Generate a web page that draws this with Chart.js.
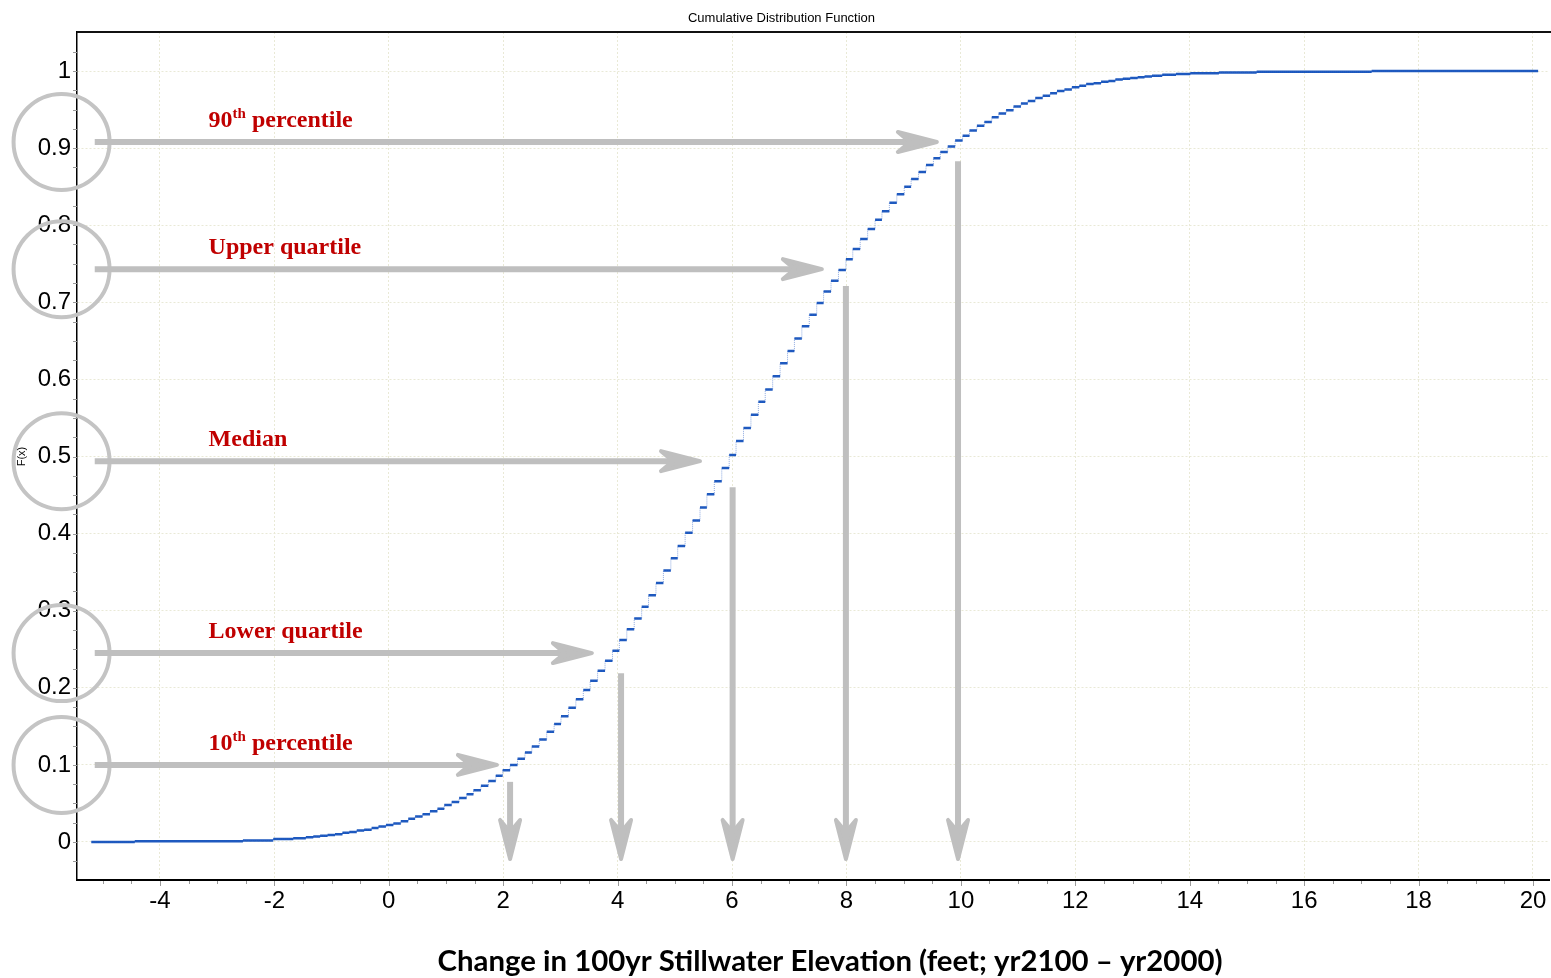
<!DOCTYPE html>
<html>
<head>
<meta charset="utf-8">
<script src="https://cdn.jsdelivr.net/npm/chart.js@4"></script>
<style>
  body { margin: 0; background: #fff; }
  canvas { display: block; }
</style>
</head>
<body>
<canvas id="cdfChart" width="1551" height="978"></canvas>
<script>
// step positions (feet) and cumulative probability
const xs = [-5.20, -4.44, -2.55, -2.02, -1.67,
  -1.45, -1.32, -1.20, -1.07, -0.94, -0.81, -0.69, -0.56, -0.43, -0.30,
  -0.18, -0.05, 0.08, 0.21, 0.34, 0.46, 0.59, 0.72, 0.85, 0.97,
  1.10, 1.23, 1.36, 1.48, 1.61, 1.74, 1.87, 1.99, 2.12, 2.25,
  2.38, 2.50, 2.63, 2.76, 2.89, 3.01, 3.14, 3.27, 3.40, 3.52,
  3.65, 3.78, 3.91, 4.03, 4.16, 4.29, 4.42, 4.54, 4.67, 4.80,
  4.93, 5.05, 5.18, 5.31, 5.44, 5.56, 5.69, 5.82, 5.95, 6.07,
  6.20, 6.33, 6.46, 6.58, 6.71, 6.84, 6.97, 7.09, 7.22, 7.35,
  7.48, 7.60, 7.73, 7.86, 7.99, 8.11, 8.24, 8.37, 8.50, 8.62,
  8.75, 8.88, 9.01, 9.13, 9.26, 9.39, 9.52, 9.64, 9.77, 9.90,
  10.03, 10.15, 10.28, 10.41, 10.54, 10.66, 10.79, 10.92, 11.05, 11.17,
  11.30, 11.43, 11.56, 11.68, 11.81, 11.94, 12.07, 12.19, 12.32, 12.45,
  12.58, 12.70, 12.83, 12.96, 13.09, 13.21, 13.34,
  13.52, 13.76, 14.01, 14.51, 15.17, 17.18, 20.09];
const fs = [0.000, 0.001, 0.002, 0.004, 0.005,
  0.006, 0.007, 0.008, 0.009, 0.010, 0.012, 0.013, 0.015, 0.016, 0.018,
  0.020, 0.022, 0.024, 0.027, 0.030, 0.033, 0.036, 0.040, 0.043, 0.048,
  0.052, 0.057, 0.062, 0.067, 0.073, 0.079, 0.086, 0.093, 0.100, 0.108,
  0.116, 0.124, 0.133, 0.143, 0.153, 0.163, 0.174, 0.185, 0.197, 0.209,
  0.222, 0.235, 0.248, 0.262, 0.276, 0.290, 0.305, 0.320, 0.336, 0.352,
  0.368, 0.384, 0.401, 0.417, 0.434, 0.451, 0.468, 0.485, 0.502, 0.520,
  0.537, 0.554, 0.571, 0.587, 0.604, 0.621, 0.637, 0.653, 0.669, 0.684,
  0.699, 0.714, 0.728, 0.742, 0.756, 0.769, 0.782, 0.795, 0.807, 0.818,
  0.829, 0.840, 0.850, 0.860, 0.869, 0.878, 0.887, 0.895, 0.902, 0.910,
  0.916, 0.923, 0.929, 0.934, 0.940, 0.945, 0.949, 0.954, 0.958, 0.961,
  0.965, 0.968, 0.971, 0.974, 0.976, 0.979, 0.981, 0.983, 0.984, 0.986,
  0.987, 0.989, 0.990, 0.991, 0.992, 0.993, 0.994,
  0.995, 0.996, 0.997, 0.998, 0.999, 1.000, 1.000];

const xTicks = [-4, -2, 0, 2, 4, 6, 8, 10, 12, 14, 16, 18, 20];
const yTicks = [0, 0.1, 0.2, 0.3, 0.4, 0.5, 0.6, 0.7, 0.8, 0.9, 1];

// percentile annotations
const pctLabels = ['10th percentile', 'Lower quartile', 'Median', 'Upper quartile', '90th percentile'];
const pctLevel = [0.1, 0.245, 0.494, 0.743, 0.908];   // horizontal arrow height
const pctArrowEnd = [1.89, 3.55, 5.44, 7.57, 9.58];   // where the horizontal arrow stops
const pctValue = [2.12, 4.06, 6.01, 7.99, 9.95];      // vertical arrow position
const pctDropTop = [0.078, 0.219, 0.46, 0.721, 0.883];
const dropBottom = -0.022;
const arrowStart = -5.14;
const labelX = -3.15;
const circleX = -5.72;

const steps = xs.map((v, i) => ({ x: v, y: fs[i] }));
// flat parts of the steps drawn bold, separated by gaps
const treads = [];
for (let i = 0; i < xs.length - 1; i++) {
  treads.push({ x: xs[i], y: fs[i] }, { x: xs[i + 1], y: fs[i] }, { x: xs[i + 1], y: null });
}

const sans = '"Liberation Sans", Arial, sans-serif';
const grey = '#bfbfbf';

function drawArrow(ctx, x1, y1, x2, y2) {
  const ang = Math.atan2(y2 - y1, x2 - x1);
  const head = 39, half = 10, notch = 27;
  ctx.save();
  ctx.strokeStyle = grey;
  ctx.fillStyle = grey;
  ctx.lineWidth = 6;
  ctx.beginPath();
  ctx.moveTo(x1, y1);
  ctx.lineTo(x2 - notch * Math.cos(ang), y2 - notch * Math.sin(ang));
  ctx.stroke();
  ctx.translate(x2, y2);
  ctx.rotate(ang);
  ctx.beginPath();
  ctx.moveTo(0, 0);
  ctx.lineTo(-head, -half);
  ctx.lineTo(-notch, 0);
  ctx.lineTo(-head, half);
  ctx.closePath();
  ctx.fill();
  ctx.lineWidth = 4;
  ctx.lineJoin = 'round';
  ctx.stroke();
  ctx.restore();
}

const decorations = {
  id: 'decorations',
  afterDraw(chart) {
    const { ctx, chartArea: a, scales: { x, y } } = chart;
    ctx.save();

    // top frame line
    ctx.strokeStyle = '#111';
    ctx.lineWidth = 2;
    ctx.beginPath();
    ctx.moveTo(a.left, a.top);
    ctx.lineTo(a.right + 2, a.top);
    ctx.stroke();

    // small tick marks
    ctx.strokeStyle = '#999';
    ctx.lineWidth = 1;
    for (let v = -5; v <= 20; v += 0.5) {
      const px = Math.round(x.getPixelForValue(v)) + 0.5;
      ctx.beginPath();
      ctx.moveTo(px, a.bottom + 1);
      ctx.lineTo(px, a.bottom + (v % 2 === 0 ? 6 : 4));
      ctx.stroke();
    }
    for (let v = -0.025; v <= 1.05; v += 0.025) {
      const py = Math.round(y.getPixelForValue(v)) + 0.5;
      ctx.beginPath();
      ctx.moveTo(a.left - 4, py);
      ctx.lineTo(a.left, py);
      ctx.stroke();
    }

    // titles
    ctx.fillStyle = '#000';
    ctx.textAlign = 'center';
    ctx.textBaseline = 'middle';
    ctx.font = '13px ' + sans;
    ctx.fillText('Cumulative Distribution Function', chart.width / 2 + 6, 18);

    ctx.save();
    ctx.translate(22, y.getPixelForValue(0.5));
    ctx.rotate(-Math.PI / 2);
    ctx.font = '11px ' + sans;
    ctx.fillText('F(x)', 0, 0);
    ctx.restore();

    const xTitle = 'Change in 100yr Stillwater Elevation (feet; yr2100 \u2013 yr2000)';
    ctx.font = 'bold 28px Lato, "Open Sans", sans-serif';
    const w = ctx.measureText(xTitle).width;
    ctx.save();
    ctx.translate(830, 962);
    ctx.scale(785 / w, 1);
    ctx.fillText(xTitle, 0, 0);
    ctx.restore();

    // percentile circles, arrows and labels
    pctLabels.forEach((label, i) => {
      const py = y.getPixelForValue(pctLevel[i]);
      ctx.strokeStyle = '#c4c4c4';
      ctx.lineWidth = 4;
      ctx.beginPath();
      ctx.arc(x.getPixelForValue(circleX), py, 48, 0, Math.PI * 2);
      ctx.stroke();

      drawArrow(ctx, x.getPixelForValue(arrowStart), py, x.getPixelForValue(pctArrowEnd[i]), py);
      const vx = x.getPixelForValue(pctValue[i]);
      drawArrow(ctx, vx, y.getPixelForValue(pctDropTop[i]), vx, y.getPixelForValue(dropBottom));

      // red label, with superscript ordinal where needed
      ctx.fillStyle = '#c00000';
      ctx.textAlign = 'left';
      ctx.textBaseline = 'alphabetic';
      const base = py - 15;
      let tx = x.getPixelForValue(labelX);
      const m = label.match(/^(\d+)(th)(.*)$/);
      const big = 'bold 24px "Liberation Serif", "Times New Roman", serif';
      const small = 'bold 15px "Liberation Serif", "Times New Roman", serif';
      if (m) {
        ctx.font = big;
        ctx.fillText(m[1], tx, base);
        tx += ctx.measureText(m[1]).width;
        ctx.font = small;
        ctx.fillText(m[2], tx, base - 9);
        tx += ctx.measureText(m[2]).width;
        ctx.font = big;
        ctx.fillText(m[3], tx, base);
      } else {
        ctx.font = big;
        ctx.fillText(label, tx, base);
      }
    });

    ctx.restore();
  }
};

const ctx = document.getElementById('cdfChart').getContext('2d');
new Chart(ctx, {
  type: 'line',
  data: {
    datasets: [
      {
        label: 'risers',
        data: steps,
        stepped: 'before',
        borderColor: 'rgba(50, 100, 200, 0.55)',
        borderWidth: 1,
        borderDash: [1, 1],
        pointRadius: 0,
        fill: false,
      },
      {
        label: 'F(x)',
        data: treads,
        borderColor: '#1c58be',
        borderWidth: 2.5,
        pointRadius: 0,
        spanGaps: false,
        fill: false,
      },
    ],
  },
  options: {
    responsive: false,
    animation: false,
    layout: { padding: { left: 0, right: 2, top: 32, bottom: 0 } },
    plugins: {
      legend: { display: false },
      tooltip: { enabled: false },
      title: { display: false },
    },
    scales: {
      x: {
        type: 'linear',
        min: -5.45,
        max: 20.28,
        afterBuildTicks: (s) => { s.ticks = xTicks.map((v) => ({ value: v })); },
        afterFit: (s) => { s.height = 98; s.paddingLeft = 0; s.paddingRight = 0; },
        ticks: {
          font: { family: sans, size: 24 },
          color: '#000',
          padding: 7,
          maxRotation: 0,
          autoSkip: false,
          callback: (v) => String(v),
        },
        grid: { color: '#e9e9d6', drawTicks: false },
        border: { color: '#000', width: 2, dash: [2, 2] },
      },
      y: {
        min: -0.0493,
        max: 1.0506,
        afterBuildTicks: (s) => { s.ticks = yTicks.map((v) => ({ value: v })); },
        afterFit: (s) => { s.width = 77; s.paddingTop = 0; s.paddingBottom = 0; },
        ticks: {
          font: { family: sans, size: 24 },
          color: '#000',
          padding: 6,
          autoSkip: false,
          callback: (v) => String(Number(v.toFixed(1))),
        },
        grid: { color: '#e9e9d6', drawTicks: false },
        border: { color: '#000', width: 1.5, dash: [2, 2] },
      },
    },
  },
  plugins: [decorations],
});
</script>
</body>
</html>
